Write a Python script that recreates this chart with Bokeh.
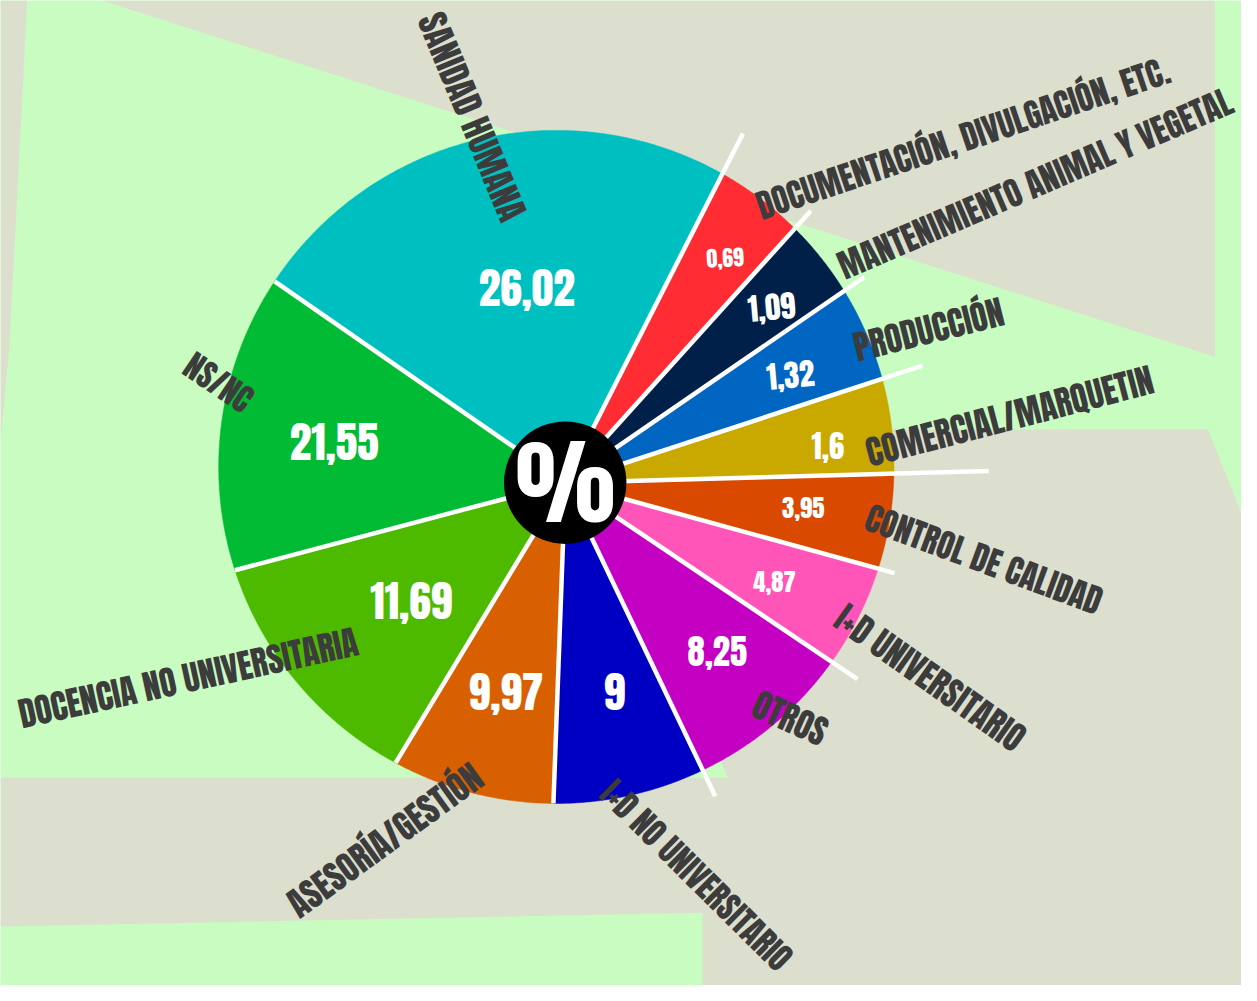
import numpy as np
from bokeh.plotting import figure
from bokeh.models import ColumnDataSource, Range1d
from bokeh.core.properties import value
from bokeh.embed import file_html
from bokeh.resources import INLINE

# ---------------- data ----------------
categories = ["SANIDAD HUMANA", "DOCUMENTACIÓN, DIVULGACIÓN, ETC.",
              "MANTENIMIENTO ANIMAL Y VEGETAL", "PRODUCCIÓN", "COMERCIAL/MARQUETIN",
              "CONTROL DE CALIDAD", "I+D UNIVERSITARIO", "OTROS", "I+D NO UNIVERSITARIO",
              "ASESORÍA/GESTIÓN", "DOCENCIA NO UNIVERSITARIA", "NS/NC"]
percent = [26.02, 0.69, 1.09, 1.32, 1.6, 3.95, 4.87, 8.25, 9, 9.97, 11.69, 21.55]
# angular size (degrees) that each slice is drawn with in the original (not proportional)
drawn_span_deg = [82.1, 15.1, 13.4, 16.4, 16.6, 17.0, 18.6, 30.5, 27.6, 29.0, 44.0, 49.7]
center_symbol = "%"

# ---------------- style ----------------
slice_colors = ["#00bfc1", "#ff2d33", "#00204a", "#0066c2", "#c9a800", "#d94a00",
                "#ff55b9", "#c400c2", "#0000c2", "#d86000", "#4dba00", "#00bb33"]
GREEN = "#c8fcc0"
GREY = "#dcdfce"
LABEL_COLOR = "#3c3c3c"
FONT = value("Anton")
W, H = 1257, 1001          # reference pixel space
S = 1241 / 1257            # figure pixels per reference pixel

def px(n):
    return f"{n * S:.1f}px"

def fy(y):
    return H - np.asarray(y, dtype=float)

# ---------------- layout (reference pixels, y downward) ----------------
apex = np.array([572.0, H - 490.0])
pie_c = np.array([563.0, H - 474.0])
R = 342.0
first_edge_deg = 145.2
sep_len = [0, 398, 372, 368, 381, 429, 346, 357, 353, 0, 0, 0]

# category label: centre x, centre y, angle(deg), font px
cat_layout = [(478, 118, -67.5, 34), (975, 140, 18.6, 33), (1048, 186, 23.3, 33),
              (940, 334, 14.0, 34), (1022, 422, 14.6, 34), (996, 568, -20.3, 33),
              (942, 688, -35.2, 34), (800, 729, -24.3, 34), (705, 889, -44.7, 32.5),
              (389, 853, 36.0, 34), (190, 688, 12.3, 34), (221, 388, -34.0, 32)]
# value label: centre x, centre y, font px, angle(deg)
val_layout = [(533, 292, 44, 0), (734, 261, 22, 3), (781, 311, 31, 5), (800, 380, 31, 5),
              (838, 452, 31, 0), (813, 515, 25, 0), (784, 590, 25, 0), (726, 661, 35, 0),
              (622, 702, 44, 0), (512, 702, 44, 0), (416, 610, 44, 0), (338, 448, 44, 0)]

p = figure(width=1241, height=985, x_range=Range1d(0, W), y_range=Range1d(0, H),
           output_backend="svg", toolbar_location=None, min_border=0,
           x_axis_location=None, y_axis_location=None)
p.grid.visible = False
p.outline_line_color = None
p.background_fill_color = GREEN
p.border_fill_color = GREEN

# background shapes
bg_x = [[0, 27, 21, 9, 0], [103, 1230, 1230],
        [582, 1223, 1257, 1257, 711, 711, 0, 0, 737]]
bg_y = [[0, 0, 120, 350, 450], [0, 0, 362],
        [436, 436, 521, 1001, 1001, 927, 941, 790, 790]]
p.patches(xs=bg_x, ys=[list(fy(v)) for v in bg_y], fill_color=GREY, line_color=None)

# pie slices
def ray_to_circle(phi):
    d = np.array([np.cos(phi), np.sin(phi)])
    f = apex - pie_c
    b = d @ f
    c = f @ f - R * R
    return -b + np.sqrt(b * b - c)

edges = first_edge_deg - np.concatenate([[0], np.cumsum(drawn_span_deg)])
xs, ys = [], []
for i in range(len(percent)):
    phis = np.radians(np.linspace(edges[i], edges[i + 1], 80))
    sx, sy = [apex[0]], [apex[1]]
    for ph in phis:
        t = ray_to_circle(ph)
        sx.append(apex[0] + t * np.cos(ph))
        sy.append(apex[1] + t * np.sin(ph))
    xs.append(sx)
    ys.append(sy)
p.patches(xs=xs, ys=ys, fill_color=slice_colors, line_color=slice_colors, line_width=0.5)

# white separators
x0, y0, x1, y1 = [], [], [], []
for k in range(len(percent)):
    ph = np.radians(edges[k])
    L = max(ray_to_circle(ph), sep_len[k])
    x0.append(apex[0]); y0.append(apex[1])
    x1.append(apex[0] + L * np.cos(ph)); y1.append(apex[1] + L * np.sin(ph))
p.segment(x0=x0, y0=y0, x1=x1, y1=y1, line_color="white", line_width=4.5)

# centre disc
p.circle(x=[apex[0]], y=[apex[1]], radius=62, fill_color="black", line_color=None)
p.text(x=[apex[0]], y=[apex[1]], text=[center_symbol], text_color="white",
       text_font=FONT, text_font_size=px(95),
       text_align="center", text_baseline="middle")

# value labels
val_text = [f"{v:g}".replace(".", ",") for v in percent]
vsrc = ColumnDataSource(dict(
    x=[v[0] for v in val_layout], y=list(fy([v[1] for v in val_layout])),
    text=val_text, size=[px(v[2]) for v in val_layout],
    angle=[np.radians(v[3]) for v in val_layout]))
p.text(x="x", y="y", text="text", angle="angle", source=vsrc, text_color="white",
       text_font=FONT, text_font_size="size",
       text_align="center", text_baseline="middle")

# category labels
csrc = ColumnDataSource(dict(
    x=[c[0] for c in cat_layout], y=list(fy([c[1] for c in cat_layout])),
    text=categories, size=[px(c[3]) for c in cat_layout],
    angle=[np.radians(c[2]) for c in cat_layout]))
p.text(x="x", y="y", text="text", angle="angle", source=csrc, text_color=LABEL_COLOR,
       text_font=FONT, text_font_size="size",
       text_align="center", text_baseline="middle")

open("out.html", "w").write(file_html(p, INLINE))
